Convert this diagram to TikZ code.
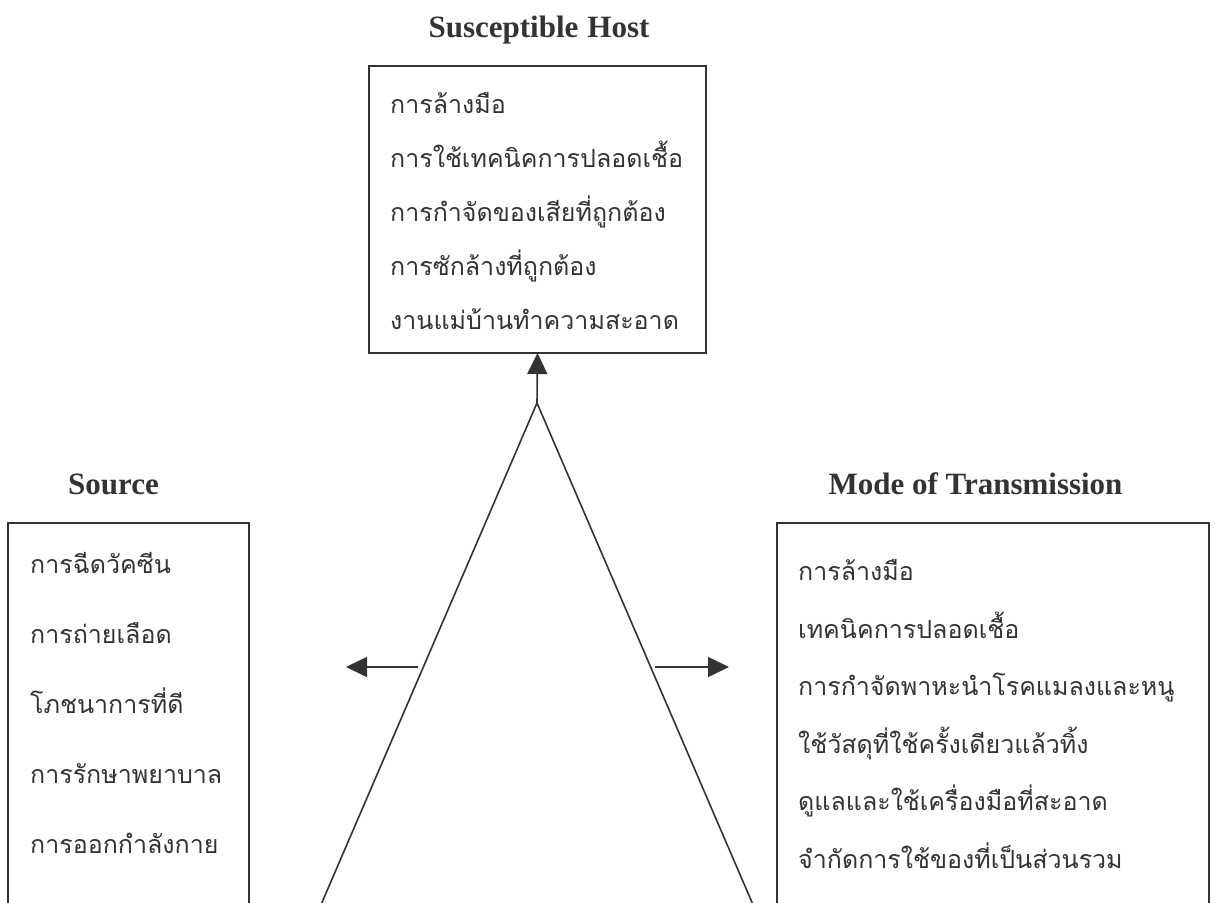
\documentclass[tikz,border=0pt]{standalone}
\usepackage{fontspec}
\setmainfont{Liberation Serif}
\newfontfamily\thaifont[Script=Thai]{Loma}
\usetikzlibrary{arrows.meta}
\definecolor{ink}{HTML}{333333}
\tikzset{
  box/.style={draw=ink,line width=2pt,inner sep=0pt,outer sep=0pt},
  heading/.style={font=\fontsize{31}{36}\selectfont\bfseries,text=ink,anchor=base,inner sep=0pt},
  item/.style={font=\thaifont\fontsize{25}{30}\selectfont,text=ink,anchor=base west,inner sep=0pt},
  edge/.style={draw=ink,line width=1.6pt},
  tip/.style={edge,-{Triangle[length=21pt,width=20pt]}}
}
\begin{document}
\begin{tikzpicture}[x=1pt,y=-1pt]
\useasboundingbox (0,0) rectangle (1215,902);
\clip (0,0) rectangle (1215,902);

\node[box,minimum width=337pt,minimum height=287pt] (host) at (537.5,209.5) {};
\node[box,minimum width=241pt,minimum height=427pt] (src) at (128.5,736.5) {};
\node[box,minimum width=432pt,minimum height=427pt] (mode) at (993,736.5) {};

\node[heading] (hosttitle) at (539,37) {Susceptible\hspace{9pt}Host};
\node[heading] (srctitle) at (113.5,494) {Source};
\node[heading] (modetitle) at (975.5,494) {Mode of Transmission};

\foreach \t [count=\i] in {การล้างมือ,การใช้เทคนิคการปลอดเชื้อ,การกำจัดของเสียที่ถูกต้อง,การซักล้างที่ถูกต้อง,งานแม่บ้านทำความสะอาด}
  \node[item] (host\i) at (390,{113+54*(\i-1)}) {\t};
\foreach \t [count=\i] in {การฉีดวัคซีน,การถ่ายเลือด,โภชนาการที่ดี,การรักษาพยาบาล,การออกกำลังกาย}
  \node[item] (src\i) at (30,{573+70*(\i-1)}) {\t};
\foreach \t [count=\i] in {การล้างมือ,เทคนิคการปลอดเชื้อ,การกำจัดพาหะนำโรคแมลงและหนู,ใช้วัสดุที่ใช้ครั้งเดียวแล้วทิ้ง,ดูแลและใช้เครื่องมือที่สะอาด,จำกัดการใช้ของที่เป็นส่วนรวม}
  \node[item] (mode\i) at (798,{580.5+57.5*(\i-1)}) {\t};

\coordinate (apex) at (537,403);
\coordinate (lfoot) at (317,914);
\coordinate (rfoot) at (757,914);
\draw[edge] (lfoot) -- (apex) -- (rfoot);
\draw[tip] (apex) -- (host.south);

\coordinate (srcstart) at (418,667);
\coordinate (srcend) at (346,667);
\draw[tip] (srcstart) -- (srcend);
\coordinate (modestart) at (655,667);
\coordinate (modeend) at (729,667);
\draw[tip] (modestart) -- (modeend);

\end{tikzpicture}
\end{document}
